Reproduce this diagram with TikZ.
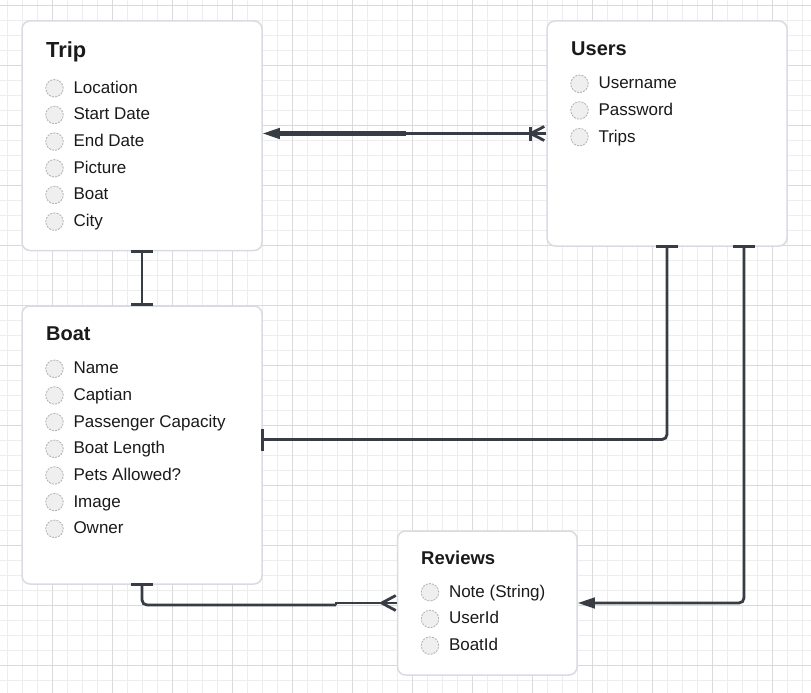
\documentclass[tikz,border=0pt]{standalone}
\usepackage{fontspec}
\setmainfont{Liberation Sans}
\usetikzlibrary{arrows.meta,calc}
\definecolor{gminor}{HTML}{EDEDED}
\definecolor{gmajor}{HTML}{DADADA}
\definecolor{boxedge}{HTML}{D8DCE2}
\definecolor{conncol}{HTML}{383D45}
\definecolor{dotfill}{HTML}{EFEFEF}
\definecolor{dotedge}{HTML}{B0B0B0}
\definecolor{txt}{HTML}{1A1A1A}
\tikzset{
  onebar/.tip={Bar[width=22pt]},
  tri/.tip={Triangle[length=17pt,width=10.5pt]},
}
\begin{document}
\begin{tikzpicture}[x=1pt,y=-1pt,
  entity/.style={draw=boxedge, line width=1.5pt, fill=white, rounded corners=8pt, inner sep=0pt},
  ttl/.style={anchor=base west, inner sep=0pt, text=txt},
  itm/.style={anchor=base west, inner sep=0pt, text=txt, font=\fontsize{17}{20}\selectfont},
  dot/.style={circle, draw=dotedge, dash pattern=on 2pt off 1.2pt, line width=0.8pt, fill=dotfill, minimum size=17.5pt, inner sep=0pt},
  conn/.style={draw=conncol, line width=2.8pt},
]
\useasboundingbox (0,0) rectangle (811,693);
\fill[white] (0,0) rectangle (811,693);
% grid
\foreach \x in {7.5,22.5,...,810} \draw[gminor, line width=1pt] (\x,0) -- (\x,693);
\foreach \y in {5.3,20.3,...,692} \draw[gminor, line width=1pt] (0,\y) -- (811,\y);
\foreach \x in {52.5,112.5,...,810} \draw[gmajor, line width=1pt] (\x,0) -- (\x,693);
\foreach \y in {5.3,65.3,...,692} \draw[gmajor, line width=1pt] (0,\y) -- (811,\y);

% entities
\node[entity, minimum width=240pt, minimum height=229.5pt] (trip) at (142,135.75) {};
\node[entity, minimum width=240pt, minimum height=225pt] (users) at (667,133.5) {};
\node[entity, minimum width=240pt, minimum height=278pt] (boat) at (142,445) {};
\node[entity, minimum width=179.5pt, minimum height=144pt] (reviews) at (487.25,603) {};

% titles
\node[ttl, font=\fontsize{21.8}{24}\selectfont\bfseries] (tripT) at (46,57.3) {Trip};
\node[ttl, font=\fontsize{20}{24}\selectfont\bfseries] (usersT) at (571,55.5) {Users};
\node[ttl, font=\fontsize{20}{24}\selectfont\bfseries] (boatT) at (46,340.5) {Boat};
\node[ttl, font=\fontsize{18.5}{22}\selectfont\bfseries] (reviewsT) at (421,564) {Reviews};

% items
\foreach \t [count=\i] in {Location,Start Date,End Date,Picture,Boat,City} {
  \node[dot] (tripD\i) at (54.5,{88.3+26.67*(\i-1)}) {};
  \node[itm] (tripI\i) at (73.3,{93.3+26.67*(\i-1)}) {\t};
}
\foreach \t [count=\i] in {Username,Password,Trips} {
  \node[dot] (usersD\i) at (579.5,{83.8+26.67*(\i-1)}) {};
  \node[itm] (usersI\i) at (598.3,{88.8+26.67*(\i-1)}) {\t};
}
\foreach \t [count=\i] in {Name,Captian,Passenger Capacity,Boat Length,Pets Allowed?,Image,Owner} {
  \node[dot] (boatD\i) at (54.5,{368.8+26.67*(\i-1)}) {};
  \node[itm] (boatI\i) at (73.3,{373.8+26.67*(\i-1)}) {\t};
}
\foreach \t [count=\i] in {Note (String),UserId,BoatId} {
  \node[dot] (reviewsD\i) at (430,{592.3+26.67*(\i-1)}) {};
  \node[itm] (reviewsI\i) at (448.8,{597.3+26.67*(\i-1)}) {\t};
}

% Trip -- Users
\draw[conn, -{tri}] (users.west) -- (trip.east |- users.west);
\draw[conncol, line width=4.3pt] ([xshift=12pt]trip.east |- users.west) -- ([xshift=143pt]trip.east |- users.west);
\draw[conn] ([xshift=-16pt,yshift=7pt]users.west) -- ([xshift=-16pt,yshift=-7pt]users.west);
\draw[conn] ([xshift=-15.5pt]users.west) -- ([xshift=-2pt,yshift=7pt]users.west);
\draw[conn] ([xshift=-15.5pt]users.west) -- ([xshift=-2pt,yshift=-7pt]users.west);

% Trip -- Boat
\draw[conn, {onebar}-{onebar}, shorten <=-1.5pt, shorten >=-1pt] (trip.south) -- (boat.north);

% Users -- Boat
\draw[conn, rounded corners=5pt, {onebar}-{onebar}, shorten <=-2pt, shorten >=-2pt]
  (users.south) |- ([yshift=5.5pt]boat.east);

% Users -- Reviews
\draw[conn, rounded corners=5pt, {onebar}-{tri}, shorten <=-2pt]
  ([xshift=77pt]users.south) |- (reviews.east);

% Boat -- Reviews
\coordinate (jog) at (336,605);
\draw[conn, rounded corners=5pt, {onebar}-, shorten <=-2pt] (boat.south) |- (jog);
\draw[conn] (jog) -- (jog |- reviews.west) -- (reviews.west);
\draw[conn] ([xshift=-15pt]reviews.west) -- ([xshift=-1pt,yshift=7.5pt]reviews.west);
\draw[conn] ([xshift=-15pt]reviews.west) -- ([xshift=-1pt,yshift=-7.5pt]reviews.west);
\end{tikzpicture}
\end{document}
